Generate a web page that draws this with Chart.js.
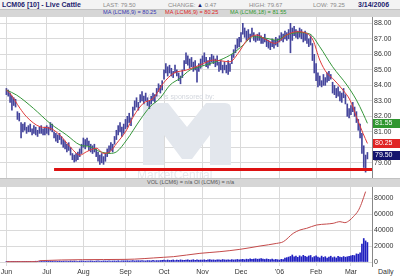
<!DOCTYPE html>
<html>
<head>
<meta charset="utf-8">
<script src="https://cdn.jsdelivr.net/npm/chart.js@4.4.1/dist/chart.umd.min.js"></script>
<style>
  body { margin: 0; width: 400px; height: 277px; background: #fff; position: relative; overflow: hidden;
         font-family: "Liberation Sans", Arial, sans-serif; }
  .row1 { position: absolute; left: 0; top: 0; width: 400px; height: 9px; background: #f3f3f3; }
  .row2 { position: absolute; left: 0; top: 9px; width: 400px; height: 8px; background: #d6d6d6; border-top: 1px solid #c2c2c2; box-sizing: border-box; }
  .band { position: absolute; left: 0; top: 178px; width: 400px; height: 9px; background: #d6d6d6; border-top: 1px solid #c2c2c2; box-sizing: border-box; }
  .t { position: absolute; white-space: nowrap; line-height: 1; }
  #priceChart { position: absolute; left: 0; top: 17px; }
  #volChart { position: absolute; left: 0; top: 187px; }
</style>
</head>
<body>
<div class="row1"></div>
<div class="row2"></div>
<div class="band"></div>

<div class="t" style="left:2px;top:1px;font-size:7px;font-weight:bold;color:#1c1c6e">LCM06 [10] - Live Cattle</div>
<div class="t" style="left:103px;top:1.5px;font-size:6px;color:#8a8a8a">LAST: 79.50</div>
<div class="t" style="left:168px;top:1.5px;font-size:6px;color:#8a8a8a">CHANGE: <span style="color:#1c1c6e">&#9650;</span> 0.47</div>
<div class="t" style="left:249px;top:1.5px;font-size:6px;color:#8a8a8a">HIGH: 79.67</div>
<div class="t" style="left:313px;top:1.5px;font-size:6px;color:#8a8a8a">LOW: 79.25</div>
<div class="t" style="left:358px;top:1px;font-size:7px;font-weight:bold;color:#1c1c6e">3/14/2006</div>

<div class="t" style="left:103px;top:10px;font-size:5.6px;color:#3535b0">MA (LCM6,9) = 80.25</div>
<div class="t" style="left:165px;top:10px;font-size:5.6px;color:#dd2222">MA (LCM6,9) = 80.25</div>
<div class="t" style="left:230px;top:10px;font-size:5.6px;color:#2f962f">MA (LCM6,18) = 81.55</div>

<div class="t" style="left:147px;top:180px;font-size:5.6px;color:#555">VOL (LCM6) = n/a OI (LCM6) = n/a</div>
<div class="t" style="left:378px;top:268px;font-size:7px;color:#333">Daily</div>

<canvas id="priceChart" width="400" height="161"></canvas>
<canvas id="volChart" width="400" height="90"></canvas>

<script>
// trading days Jun 1 2005 .. Mar 14 2006, index 0..197
const monthNames = ['Jun', 'Jul', 'Aug', 'Sep', 'Oct', 'Nov', 'Dec', "'06", 'Feb', 'Mar'];
const monthStarts = [0, 22, 42, 65, 86, 107, 128, 149, 169, 188];

const highs = [
  83.8,83.7,83.5,83.3,83.2,83.1,82.3,82.2,81.6,81.5,81.6,81.3,81.4,81.5,81.2,81.4,81.3,81.1,81.3,81.4,81.2,81.3,
  81.4,81.3,81.6,81.5,81.0,80.9,80.8,80.9,80.7,80.5,80.4,80.2,80.3,80.0,79.6,79.5,79.6,79.7,79.9,80.2,
  80.6,80.5,80.6,80.4,80.2,80.1,80.2,79.9,79.7,79.5,79.6,79.4,79.6,79.9,80.1,80.3,80.2,80.7,81.1,81.4,81.6,81.3,81.5,
  81.8,82.0,82.2,81.9,82.6,83.0,83.2,82.9,83.4,83.6,83.3,83.5,83.2,83.0,83.3,83.5,83.4,83.8,84.1,84.0,84.3,
  85.0,85.4,85.2,85.3,85.1,84.9,85.3,85.0,84.8,84.6,85.0,85.6,86.1,85.9,85.7,85.8,85.5,85.6,85.2,85.4,85.7,
  85.9,86.1,85.8,85.6,85.8,86.0,85.9,85.7,85.9,85.5,85.6,85.3,85.5,85.3,85.6,85.4,86.0,86.3,86.6,87.0,87.1,
  87.4,88.0,87.7,87.5,87.6,87.3,87.7,87.4,87.2,87.3,87.4,87.2,87.1,87.3,87.0,86.9,86.8,87.0,86.9,87.1,87.0,
  87.2,87.4,87.3,87.5,87.4,87.6,88.0,87.7,87.8,87.6,87.5,87.7,87.6,87.4,87.5,87.3,87.0,87.2,86.7,86.0,
  85.4,84.8,84.6,84.3,84.7,84.5,84.8,84.9,84.7,84.2,84.0,83.8,83.9,83.6,83.5,83.8,83.4,82.8,82.5,
  82.7,82.9,82.6,82.3,81.8,81.5,80.9,80.1,79.5,79.67
];
const lows = [
  83.4,83.3,82.9,82.4,82.7,82.6,81.8,81.7,80.6,81.0,81.1,80.9,81.0,81.0,80.8,80.9,80.8,80.7,80.9,80.9,80.8,80.8,
  80.9,80.8,81.1,81.0,80.6,80.4,80.3,80.5,80.2,80.0,79.9,79.7,79.8,79.5,79.2,79.05,79.1,79.2,79.4,79.6,
  80.0,79.9,80.1,79.8,79.7,79.6,79.7,79.4,79.1,78.9,79.0,78.9,79.1,79.4,79.6,79.8,79.7,80.2,80.5,80.8,81.0,80.7,80.9,
  81.2,81.3,81.6,81.4,82.0,82.4,82.6,82.4,82.9,83.0,82.8,83.0,82.7,82.5,82.8,83.0,82.9,83.3,83.6,83.5,83.7,
  84.4,84.8,84.6,84.8,84.6,84.5,84.8,84.6,84.3,84.1,84.5,85.0,85.4,85.3,85.1,85.2,84.9,85.0,84.2,84.9,85.1,
  85.3,85.5,85.2,85.1,85.3,85.5,85.4,85.2,85.3,84.9,85.0,84.8,85.0,84.8,84.7,84.9,85.4,85.8,86.1,86.4,86.5,
  86.8,87.3,87.1,86.9,87.0,86.8,87.2,86.9,86.8,86.9,86.9,86.7,86.7,86.8,86.5,86.4,86.3,86.5,86.4,86.6,86.5,
  86.8,86.9,86.8,87.0,86.9,87.0,86.1,86.9,87.2,87.1,87.0,87.1,87.0,86.8,86.9,86.7,86.5,86.6,85.6,84.8,
  84.3,83.9,84.0,83.9,84.0,84.0,84.2,84.3,84.4,83.5,83.4,83.2,83.3,83.0,82.9,83.2,82.8,82.0,81.9,
  82.1,82.3,82.0,81.6,81.1,80.6,79.6,78.7,78.4,79.25
];

// moving averages (day index, value)
const ma9Days = [0,2,7.4,11,18.3,23.8,29.2,34.7,40.2,43.8,49.3,52.9,56.5,60.2,65.6,69.2,74.7,80.1,85.6,91.1,98.4,105.6,112.9,122,126.4,131.3,136.7,142,146.5,152.9,158.5,164,167.3,171,175,178,183.6,187.5,191,194.6,197];
const ma9 = [83.7,83.48,82.52,81.97,81.33,81.23,80.79,80.04,79.5,79.72,79.94,79.61,79.72,80.26,81.12,81.97,82.84,83.16,84.13,84.77,84.99,85.31,85.63,85.52,86.06,86.92,87.25,86.92,86.71,87.25,87.46,87.35,86.92,85.63,84.77,84.45,83.7,83.05,81.97,80.9,80.25];
const ma18Days = [0,5.6,14.7,23.8,32.9,40.2,45.6,51.1,56.5,60.2,65.6,72.9,78.4,83.8,89.3,94.7,100.2,105.6,116.5,123.6,129.2,134.6,142,147.5,152.9,160,165.6,171,178,185.8,191,194.6,197];
const ma18 = [83.7,83.37,82.52,81.55,80.79,80.15,80.04,79.72,79.61,79.72,80.47,81.76,82.62,83.16,84.02,84.45,84.99,85.2,85.63,86.06,86.6,87.14,87.03,86.92,87.25,87.4,87.31,86.49,85.2,84.02,83.05,82.19,81.55];

const supportLevel = 78.57;
const supportFrom = 26;

const priceTicks = [79, 80, 81, 82, 83, 84, 85, 86, 87, 88];
const lastValues = [81.55, 80.25, 79.50];

const volumes = [
  600,500,700,500,800,600,900,700,600,800,700,900,600,800,700,900,1000,800,700,900,1000,800,
  1100,900,1200,1000,1100,1300,900,1200,1000,1100,1300,1200,1000,1400,1100,1300,1200,1000,1200,1400,
  1200,1000,1300,1100,1400,1200,1000,1300,1500,1200,1100,1400,1300,1200,1500,1100,1300,1400,1200,1600,1300,1400,1500,
  1400,1600,1300,1500,1800,1400,1600,1700,1500,1900,1600,1400,1800,1700,1500,2000,1600,1800,1700,1900,2100,
  2300,1800,2500,2000,2200,2600,1900,2400,2100,2700,2300,2000,2500,2800,2200,2400,2900,2100,2600,2300,2500,
  2400,2800,2200,2600,3000,2500,2700,2300,2900,2600,2400,3100,2700,2500,2900,2300,3000,2600,2800,3200,2700,
  3000,3400,2800,3600,3200,3900,3300,3700,4100,3500,3800,4300,3600,3200,3900,3400,3000,3600,2800,3300,2900,
  2500,3400,3000,4800,5500,6200,7000,8800,6500,7400,5900,7800,6600,8400,7200,6100,7600,8200,5600,6800,
  7900,6300,5200,7400,5800,6700,4900,6100,7300,5500,6400,5100,7000,6200,5700,6900,6000,6600,7200,
  7800,8400,8000,10200,9800,11500,22500,29500,26500,24500
];
const oiDays = [0,16.5,18.3,64.7,85.6,91.1,105.6,116.5,127.4,138.4,147.5,151.1,156.5,160.2,163.8,169.3,174.7,178.3,182,184.7,187.5,189.3,192,193.8,196];
const oi = [400,500,1700,3300,5900,6700,10900,13000,15900,20100,23400,25500,36000,40200,42300,46500,47700,48600,50700,49400,52800,56900,64500,73700,88400];
const volTicks = [0, 10000, 20000, 30000, 40000, 50000, 60000, 70000, 80000];

Chart.defaults.font.family = '"Liberation Sans", Arial, sans-serif';
Chart.defaults.font.size = 7;
Chart.defaults.color = '#333';

const gridColor = '#dadada';
const noPad = s => { s.paddingTop = 0; s.paddingBottom = 0; s.paddingLeft = 0; s.paddingRight = 0; };

function xAxis(showLabels) {
  return {
    type: 'linear', min: -3.5, max: 199.5, offset: false,
    grid: { color: gridColor, offset: false, drawTicks: false },
    border: { display: false },
    ticks: {
      display: showLabels, padding: 2, autoSkip: false, maxRotation: 0,
      callback: v => monthNames[monthStarts.indexOf(v)]
    },
    afterBuildTicks: s => { s.ticks = monthStarts.map(v => ({ value: v })); },
    afterFit: s => { s.height = showLabels ? 11 : 0; noPad(s); }
  };
}

// watermark + last value boxes
const priceExtras = {
  id: 'priceExtras',
  beforeDatasetsDraw(chart) {
    const ctx = chart.ctx;
    const x0 = 143, y0 = 86, w = 88, h = 62;
    ctx.save();
    ctx.fillStyle = '#e3e7ed';
    ctx.beginPath();
    ctx.moveTo(x0, y0 + h);
    ctx.lineTo(x0, y0 + 4);
    ctx.quadraticCurveTo(x0, y0, x0 + 4, y0);
    ctx.lineTo(x0 + 25, y0);
    ctx.lineTo(x0 + w / 2, y0 + 24);
    ctx.lineTo(x0 + w - 25, y0);
    ctx.lineTo(x0 + w - 6, y0);
    ctx.quadraticCurveTo(x0 + w, y0, x0 + w, y0 + 6);
    ctx.lineTo(x0 + w, y0 + h);
    ctx.lineTo(x0 + w - 21, y0 + h);
    ctx.lineTo(x0 + w - 21, y0 + 32);
    ctx.lineTo(x0 + w / 2 + 5, y0 + 56);
    ctx.lineTo(x0 + w / 2 - 5, y0 + 56);
    ctx.lineTo(x0 + 21, y0 + 32);
    ctx.lineTo(x0 + 21, y0 + h);
    ctx.closePath();
    ctx.fill();
    ctx.fillStyle = '#d2d6dd';
    ctx.font = '7px "Liberation Sans", Arial';
    ctx.fillText('Charts sponsored by:', 148, 82);
    ctx.fillStyle = '#e6e9ee';
    ctx.font = '12px "Liberation Sans", Arial';
    ctx.fillText('MarketCentral', 137, 162);
    ctx.restore();
  },
  afterDraw(chart) {
    const ctx = chart.ctx;
    const y = chart.scales.y;
    const fills = ['#2f962f', '#e02424', '#14146e'];
    ctx.save();
    ctx.font = '7px "Liberation Sans", Arial';
    ctx.textBaseline = 'middle';
    lastValues.forEach((v, k) => {
      const py = Math.round(y.getPixelForValue(v));
      ctx.fillStyle = fills[k];
      ctx.fillRect(chart.chartArea.right + 1, py - 4, 27, 9);
      ctx.fillStyle = '#fff';
      ctx.fillText(v.toFixed(2), chart.chartArea.right + 3, py + 0.5);
    });
    ctx.restore();
  }
};

new Chart(document.getElementById('priceChart'), {
  type: 'bar',
  data: {
    datasets: [
      {
        type: 'line', order: 0,
        data: [{ x: supportFrom, y: supportLevel }, { x: 199.5, y: supportLevel }],
        borderColor: '#dd1111', borderWidth: 3, pointRadius: 0
      },
      {
        type: 'line', order: 1,
        data: ma9Days.map((d, k) => ({ x: d, y: ma9[k] })),
        borderColor: '#e03a3a', borderWidth: 1, pointRadius: 0, cubicInterpolationMode: 'monotone'
      },
      {
        type: 'line', order: 2,
        data: ma18Days.map((d, k) => ({ x: d, y: ma18[k] })),
        borderColor: '#35963a', borderWidth: 1, pointRadius: 0, cubicInterpolationMode: 'monotone'
      },
      {
        order: 3,
        data: highs.map((h, i) => ({ x: i, y: [lows[i], h] })),
        backgroundColor: '#45459c', barThickness: 1, grouped: false
      }
    ]
  },
  options: {
    responsive: false, animation: false, devicePixelRatio: 1,
    layout: { padding: 0 },
    plugins: { legend: { display: false }, tooltip: { enabled: false } },
    scales: {
      x: xAxis(false),
      y: {
        position: 'right', min: 78.02, max: 88.41,
        grid: { color: gridColor, drawTicks: false },
        border: { display: true, color: '#888' },
        ticks: { padding: 2, callback: v => v === 80 ? '' : v.toFixed(2) },
        afterBuildTicks: s => { s.ticks = priceTicks.map(v => ({ value: v })); },
        afterFit: s => { s.width = 28; noPad(s); }
      }
    }
  },
  plugins: [priceExtras]
});

new Chart(document.getElementById('volChart'), {
  type: 'bar',
  data: {
    datasets: [
      {
        type: 'line', order: 0,
        data: oiDays.map((d, k) => ({ x: d, y: oi[k] })),
        borderColor: '#c44a4a', borderWidth: 1, pointRadius: 0, cubicInterpolationMode: 'monotone'
      },
      {
        order: 1,
        data: volumes.map((v, i) => ({ x: i, y: v })),
        backgroundColor: '#1f1fc0', barThickness: 1, grouped: false
      }
    ]
  },
  options: {
    responsive: false, animation: false, devicePixelRatio: 1,
    layout: { padding: 0 },
    plugins: { legend: { display: false }, tooltip: { enabled: false } },
    scales: {
      x: xAxis(true),
      y: {
        position: 'right', min: -5000, max: 94200,
        grid: { color: gridColor, drawTicks: false },
        border: { display: true, color: '#888' },
        ticks: { padding: 2, callback: v => String(v) },
        afterBuildTicks: s => { s.ticks = volTicks.map(v => ({ value: v })); },
        afterFit: s => { s.width = 28; noPad(s); }
      }
    }
  }
});
</script>
</body>
</html>
